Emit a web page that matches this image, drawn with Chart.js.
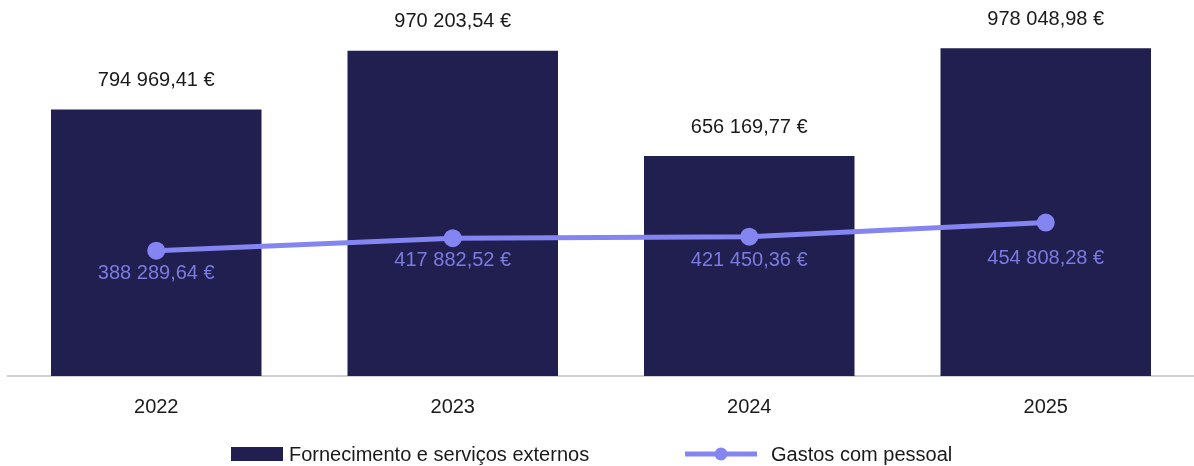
<!DOCTYPE html>
<html>
<head>
<meta charset="utf-8">
<script src="https://cdn.jsdelivr.net/npm/chart.js@4"></script>
<style>
  html, body { margin: 0; padding: 0; background: #fff; }
  #wrap { position: relative; width: 1194px; height: 466px; }
  #legend {
    position: absolute; left: 0; top: 442px; width: 1194px; height: 24px;
    font-family: "Liberation Sans", Arial, sans-serif; font-size: 20px; color: #1a1a1a;
  }
  .item { position: absolute; top: 0; display: flex; align-items: center; height: 24px; white-space: nowrap; }
  .box { width: 52px; height: 14px; background: #201F50; margin-right: 6px; }
</style>
</head>
<body>
<div id="wrap">
  <canvas id="chart" width="1194" height="466"></canvas>
  <div id="legend">
    <div class="item" style="left:231px"><span class="box"></span>Fornecimento e serviços externos</div>
    <div class="item" style="left:685px">
      <svg width="72" height="16" style="margin-right:14px"><line x1="0" y1="8" x2="72" y2="8" stroke="#8585F2" stroke-width="5"/><circle cx="36" cy="8" r="6.5" fill="#8585F2"/></svg>Gastos com pessoal
    </div>
  </div>
</div>
<script>
const years = ['2022', '2023', '2024', '2025'];
const fornecimento = [794969.41, 970203.54, 656169.77, 978048.98];
const pessoal = [388289.64, 417882.52, 421450.36, 454808.28];

const barColor = '#201F50';
const lineColor = '#8585F2';
const lineLabelColor = '#7B7BE0';
const fontFamily = '"Liberation Sans", Arial, sans-serif';

function euro(v) {
    const parts = v.toFixed(2).split('.');
    const intPart = parts[0].replace(/\B(?=(\d{3})+(?!\d))/g, ' ');
    return intPart + ',' + parts[1] + ' €';
}

// draws the value labels above bars and under the line points
// (last line label sits lower in the original, to stay clear of the line)
const lineLabelGap = [23, 22, 24, 36];
const valueLabels = {
    id: 'valueLabels',
    afterDatasetsDraw(chart) {
        const ctx = chart.ctx;
        ctx.save();
        ctx.font = '20px ' + fontFamily;
        ctx.textAlign = 'center';
        ctx.textBaseline = 'middle';
        chart.getDatasetMeta(0).data.forEach((bar, i) => {
            ctx.fillStyle = '#1a1a1a';
            ctx.fillText(euro(fornecimento[i]), bar.x, bar.y - 29);
        });
        chart.getDatasetMeta(1).data.forEach((pt, i) => {
            ctx.fillStyle = lineLabelColor;
            ctx.fillText(euro(pessoal[i]), pt.x, pt.y + lineLabelGap[i]);
        });
        ctx.restore();
    }
};

new Chart(document.getElementById('chart'), {
    type: 'bar',
    data: {
        labels: years,
        datasets: [
            {
                label: 'Fornecimento e serviços externos',
                data: fornecimento,
                backgroundColor: barColor,
                barPercentage: 0.71,
                categoryPercentage: 1,
                yAxisID: 'y',
                order: 2
            },
            {
                label: 'Gastos com pessoal',
                type: 'line',
                data: pessoal,
                borderColor: lineColor,
                backgroundColor: lineColor,
                borderWidth: 5,
                pointRadius: 6.5,
                pointHoverRadius: 6.5,
                tension: 0,
                yAxisID: 'y2',
                order: 1
            }
        ]
    },
    options: {
        responsive: false,
        animation: false,
        layout: { autoPadding: false, padding: { left: 8, right: 0, top: 10, bottom: 0 } },
        plugins: {
            legend: { display: false },
            tooltip: { enabled: false }
        },
        scales: {
            x: {
                grid: { display: false, drawTicks: false },
                border: { display: true, color: '#d0d0d0', width: 2 },
                ticks: {
                    color: '#1a1a1a',
                    font: { family: fontFamily, size: 20 },
                    padding: 19
                },
                afterFit(scale) { scale.height = 90; }
            },
            y: { display: false, min: 0, max: 1092000 },
            y2: { display: false, min: 91500, max: 958000 }
        }
    },
    plugins: [valueLabels]
});
</script>
</body>
</html>
